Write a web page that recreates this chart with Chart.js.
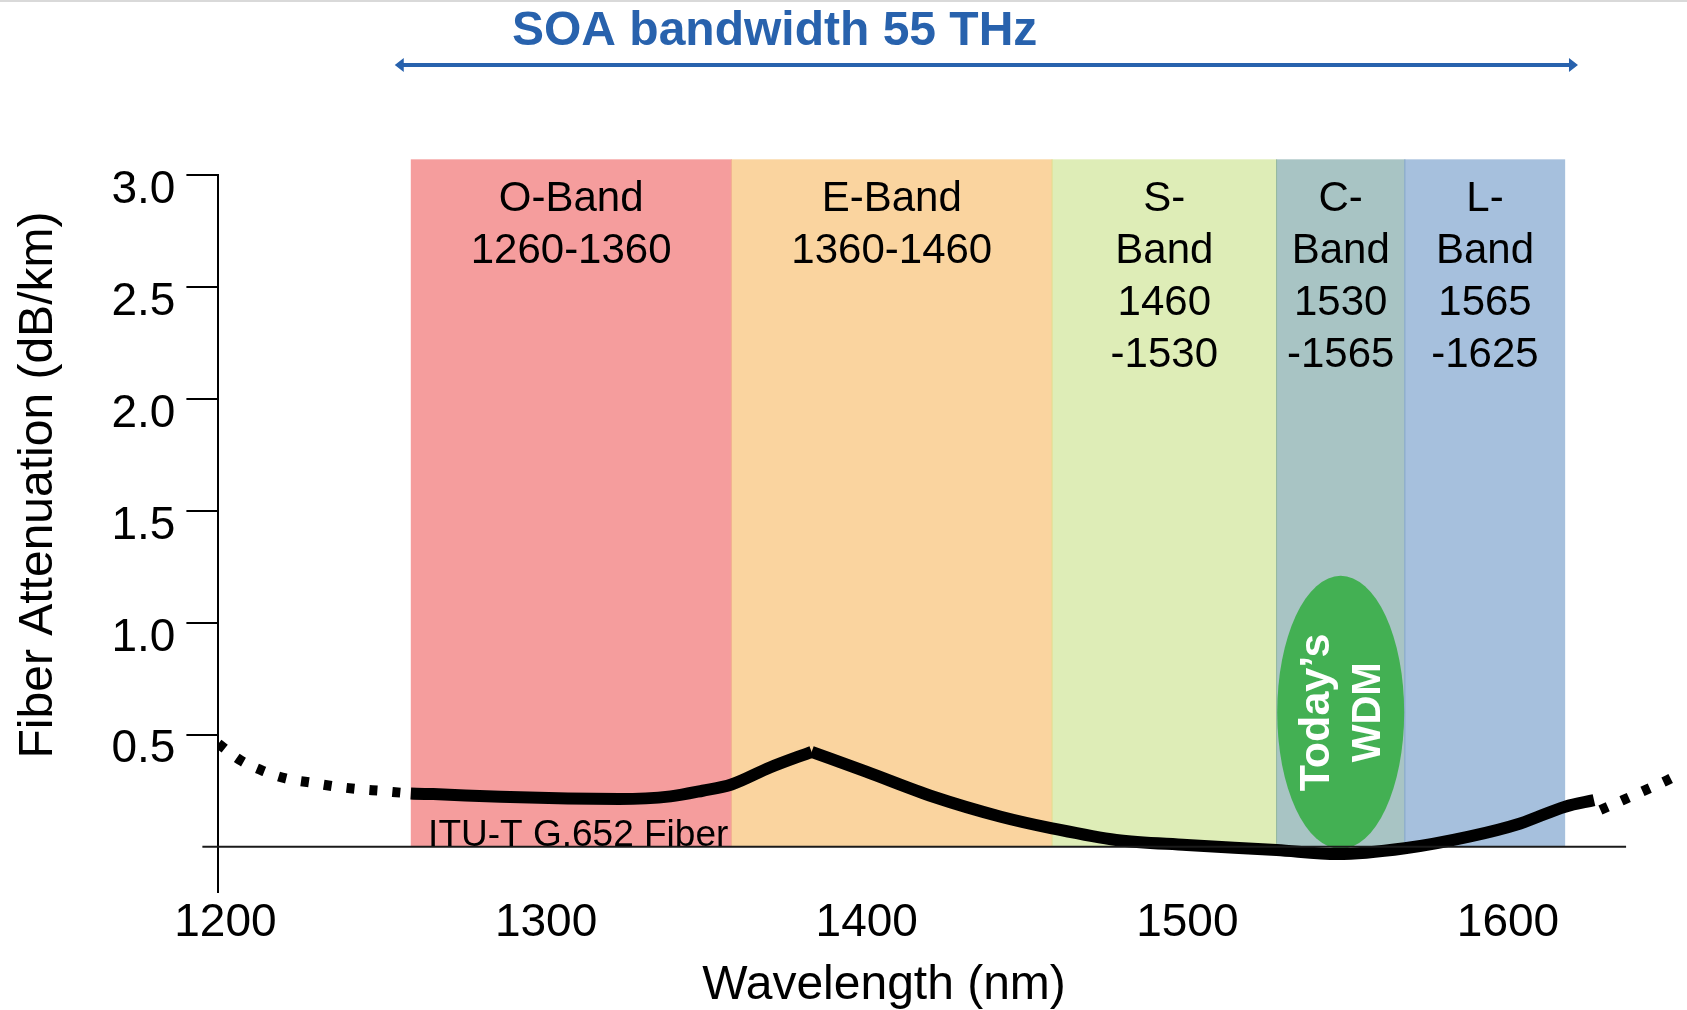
<!DOCTYPE html>
<html>
<head>
<meta charset="utf-8">
<script src="https://cdn.jsdelivr.net/npm/chart.js@4.4.1/dist/chart.umd.min.js"></script>
<style>
  html, body { margin: 0; padding: 0; background: #fff; }
  canvas { display: block; }
</style>
</head>
<body>
<canvas id="attenuation" width="1687" height="1010"></canvas>
<script>
// fiber attenuation (nm, dB/km)
const wlLeft = [1200, 1207, 1214, 1221, 1229, 1236, 1243, 1251, 1260, 1267, 1288, 1309, 1325, 1341, 1351, 1360, 1372, 1385];
const attLeft = [0.46, 0.385, 0.338, 0.305, 0.286, 0.27, 0.258, 0.249, 0.238, 0.235, 0.223, 0.215, 0.213, 0.225, 0.25, 0.278, 0.354, 0.424];
const wlRight = [1385, 1402, 1423, 1444, 1460, 1480, 1502, 1530, 1549, 1570, 1590, 1606, 1620, 1629];
const attRight = [0.424, 0.335, 0.223, 0.134, 0.082, 0.03, 0.008, -0.015, -0.033, -0.007, 0.045, 0.104, 0.179, 0.208];
const wlTail = [1631, 1638, 1645, 1652, 1655];
const attTail = [0.164, 0.208, 0.253, 0.298, 0.32];

const xTicks = [1200, 1300, 1400, 1500, 1600];
const yTicks = [0.5, 1.0, 1.5, 2.0, 2.5, 3.0];

// telecom bands
const bandLabels = [
  ['O-Band', '1260-1360'],
  ['E-Band', '1360-1460'],
  ['S-', 'Band', '1460', '-1530'],
  ['C-', 'Band', '1530', '-1565'],
  ['L-', 'Band', '1565', '-1625']
];
const bandStart = [1260, 1360, 1460, 1530, 1570];
const bandEnd = [1360, 1460, 1530, 1570, 1620];
const bandTop = 3.07;
const bandColors = ['#f59d9d', '#fad49f', '#deedb7', '#a8c4c4', '#a6c0dd'];
const bandEdges = ['#f59d9d', '#f3b08f', '#e3dc8c', '#93b8a0', '#7fa2c8'];

const soaSpan = [1255, 1624];
const wdmCenter = [1550, 0.6];
const wdmRadius = [19.8, 0.61];

const FONT = '"Liberation Sans", Arial, sans-serif';
const DASH = [8, 15];

const pts = (xs, ys) => xs.map((v, i) => ({ x: v, y: ys[i] }));

const lineStyle = {
  borderColor: '#000',
  borderWidth: 12,
  borderCapStyle: 'butt',
  borderJoinStyle: 'miter',
  cubicInterpolationMode: 'monotone',
  fill: false,
  pointRadius: 0
};

const slideArt = {
  id: 'slideArt',
  beforeDatasetsDraw(chart) {
    const { ctx, scales: { x, y } } = chart;
    ctx.save();
    ctx.fillStyle = '#d9d9d9';
    ctx.fillRect(0, 0, chart.width, 2);

    const top = y.getPixelForValue(bandTop);
    const base = y.getPixelForValue(0);
    ctx.font = '42px ' + FONT;
    ctx.textAlign = 'center';
    ctx.textBaseline = 'middle';
    bandStart.forEach((s, i) => {
      const l = x.getPixelForValue(s);
      const r = x.getPixelForValue(bandEnd[i]);
      ctx.fillStyle = bandColors[i];
      ctx.fillRect(l, top, r - l, base - top);
      if (i > 0) {
        ctx.fillStyle = bandEdges[i];
        ctx.fillRect(l - 0.5, top, 1, base - top);
      }
      ctx.fillStyle = '#000';
      bandLabels[i].forEach((t, j) => ctx.fillText(t, (l + r) / 2, top + 40.5 + j * 51.7));
    });

    // today's WDM window
    const cx = x.getPixelForValue(wdmCenter[0]);
    const cy = y.getPixelForValue(wdmCenter[1]);
    const rx = x.getPixelForValue(wdmCenter[0] + wdmRadius[0]) - cx;
    const ry = cy - y.getPixelForValue(wdmCenter[1] + wdmRadius[1]);
    ctx.fillStyle = '#43b053';
    ctx.beginPath();
    ctx.ellipse(cx, cy, rx, ry, 0, 0, Math.PI * 2);
    ctx.fill();
    ctx.translate(cx, cy);
    ctx.rotate(-Math.PI / 2);
    ctx.fillStyle = '#fff';
    ctx.font = 'bold 43px ' + FONT;
    ctx.fillText('Today\u2019s', 0, -24);
    ctx.font = 'bold 40px ' + FONT;
    ctx.fillText('WDM', 0, 28);
    ctx.restore();
  },
  afterDatasetsDraw(chart) {
    const { ctx, scales: { x, y } } = chart;
    ctx.save();
    const y0 = y.getPixelForValue(0);
    ctx.strokeStyle = '#1a1a1a';
    ctx.lineWidth = 2;
    ctx.beginPath();
    ctx.moveTo(x.getPixelForValue(1195), y0);
    ctx.lineTo(x.getPixelForValue(1639), y0);
    ctx.stroke();

    ctx.fillStyle = '#000';
    ctx.font = '37px ' + FONT;
    ctx.textAlign = 'left';
    ctx.textBaseline = 'alphabetic';
    ctx.fillText('ITU-T G.652 Fiber', x.getPixelForValue(1265.4), y0 - 1);

    // SOA bandwidth arrow
    const blue = '#2862ad';
    const ay = 65;
    const al = x.getPixelForValue(soaSpan[0]);
    const ar = x.getPixelForValue(soaSpan[1]);
    ctx.strokeStyle = blue;
    ctx.fillStyle = blue;
    ctx.lineWidth = 4;
    ctx.beginPath();
    ctx.moveTo(al + 6, ay);
    ctx.lineTo(ar - 6, ay);
    ctx.stroke();
    ctx.beginPath();
    ctx.moveTo(al, ay); ctx.lineTo(al + 9, ay - 7); ctx.lineTo(al + 9, ay + 7); ctx.closePath();
    ctx.moveTo(ar, ay); ctx.lineTo(ar - 9, ay - 7); ctx.lineTo(ar - 9, ay + 7); ctx.closePath();
    ctx.fill();
    ctx.font = 'bold 48px ' + FONT;
    ctx.fillText('SOA bandwidth 55 THz', 512, 45);

    // axis titles
    ctx.fillStyle = '#000';
    ctx.font = '48px ' + FONT;
    ctx.textAlign = 'center';
    ctx.textBaseline = 'middle';
    ctx.fillText('Wavelength (nm)', 884, 986);
    ctx.translate(39, 485);
    ctx.rotate(-Math.PI / 2);
    ctx.fillText('Fiber Attenuation (dB/km)', 0, 0);
    ctx.restore();
  }
};

new Chart(document.getElementById('attenuation'), {
  type: 'line',
  data: {
    datasets: [
      {
        ...lineStyle,
        label: 'G.652 below water peak',
        data: pts(wlLeft, attLeft),
        segment: {
          borderDash: c => (c.p1.parsed.x <= 1260 ? DASH : undefined),
          borderWidth: c => (c.p1.parsed.x <= 1260 ? 10 : undefined)
        }
      },
      { ...lineStyle, label: 'G.652 above water peak', data: pts(wlRight, attRight) },
      { ...lineStyle, label: 'G.652 extrapolated', data: pts(wlTail, attTail), borderDash: DASH, borderWidth: 10 }
    ]
  },
  options: {
    responsive: false,
    animation: false,
    devicePixelRatio: 1,
    layout: { padding: { top: 175, right: 0, bottom: 0, left: 0 } },
    plugins: { legend: { display: false }, tooltip: { enabled: false } },
    scales: {
      x: {
        type: 'linear',
        min: 1200,
        max: 1658,
        afterBuildTicks: s => { s.ticks = xTicks.map(v => ({ value: v })); },
        afterFit: s => { s.height = 118.5; },
        grid: { display: false },
        border: { display: false },
        ticks: { padding: -4, labelOffset: 7, color: '#000', font: { family: FONT, size: 46 }, callback: v => String(v) }
      },
      y: {
        min: -0.2,
        max: 3.0,
        afterBuildTicks: s => { s.ticks = yTicks.map(v => ({ value: v })); },
        afterFit: s => { s.width = 218.4; },
        grid: { drawOnChartArea: false, tickLength: 32, color: '#000', lineWidth: 2 },
        border: { color: '#000', width: 2 },
        ticks: { padding: 11, labelOffset: 15, color: '#000', font: { family: FONT, size: 46 }, callback: v => v.toFixed(1) }
      }
    }
  },
  plugins: [slideArt]
});
</script>
</body>
</html>
